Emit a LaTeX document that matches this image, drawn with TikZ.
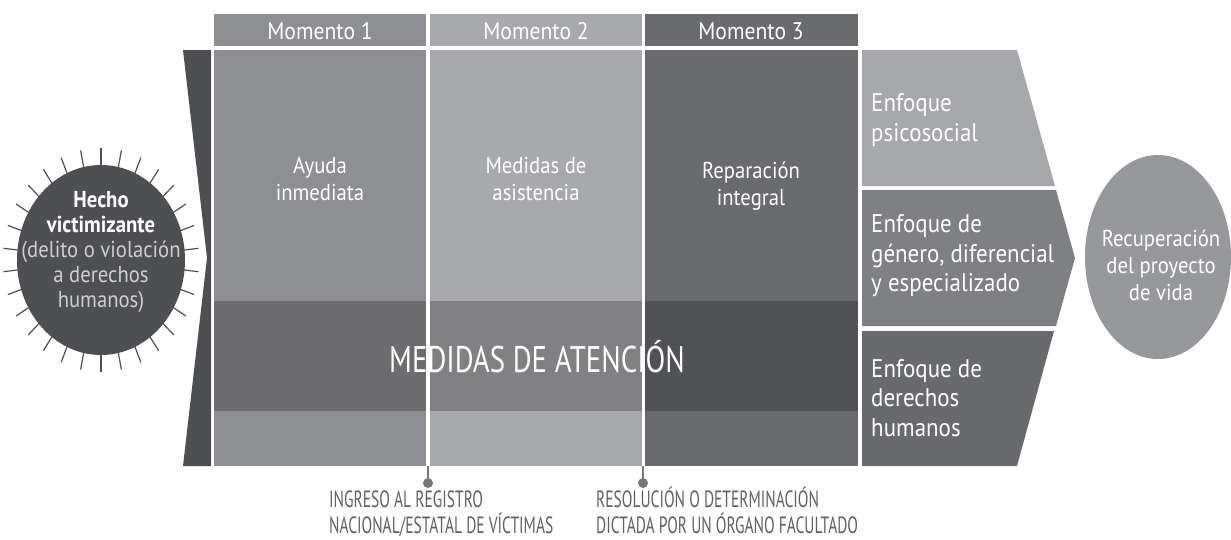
\documentclass[tikz,border=0pt]{standalone}
\usepackage{fontspec}
\setmainfont[FakeStretch=0.9]{PT Sans}
\newfontfamily\condfont[FakeStretch=0.78]{PT Sans}
\newfontfamily\narrowfont[FakeStretch=0.66]{PT Sans}
\begin{document}
\begin{tikzpicture}[x=1pt,y=-1pt,
  lbl/.style={text=white,font=\fontsize{23}{27}\selectfont,align=center,inner sep=0},
  enf/.style={text=white,font=\fontsize{25.5}{29.5}\selectfont,align=left,inner sep=0,anchor=west},
  hdr/.style={text=white,font=\fontsize{24}{26}\selectfont,inner sep=0},
  note/.style={text=notegray,font=\narrowfont\fontsize{23.5}{26}\selectfont,align=left,inner sep=0,anchor=base west},
  dotc/.style={circle,fill=dotgray,inner sep=0,minimum size=10pt}
]
\definecolor{cA}{HTML}{8E8F93}
\definecolor{cB}{HTML}{A8A9AD}
\definecolor{cC}{HTML}{6A6B6F}
\definecolor{dark}{HTML}{4E4F53}
\definecolor{eA}{HTML}{A7A8AB}
\definecolor{eB}{HTML}{7F8084}
\definecolor{eC}{HTML}{696A6E}
\definecolor{recu}{HTML}{97989C}
\definecolor{notegray}{HTML}{606164}
\definecolor{dotgray}{HTML}{77787C}
\definecolor{soft}{HTML}{CFCFD1}
\useasboundingbox (0,0) rectangle (1231,539);
\fill[white] (0,0) rectangle (1231,539);

% headers
\fill[cA] (214,14) rectangle (426,46);
\fill[cB] (430,14) rectangle (642,46);
\fill[cC] (645,14) rectangle (858,46);
\node[hdr] (m1) at (320,31) {Momento 1};
\node[hdr] (m2) at (536,31) {Momento 2};
\node[hdr] (m3) at (751,31) {Momento 3};

% columns
\fill[cA] (214,50) rectangle (426,466);
\fill[cB] (430,50) rectangle (642,466);
\fill[cC] (645,50) rectangle (858,466);
% band
\fill[black,opacity=0.23] (214,301) rectangle (426,411);
\fill[black,opacity=0.23] (430,301) rectangle (642,411);
\fill[black,opacity=0.23] (645,301) rectangle (858,411);

\node[lbl] (c1) at (320,179) {Ayuda\\inmediata};
\node[lbl] (c2) at (536,179) {Medidas de\\asistencia};
\node[lbl] (c3) at (751,186) {Reparación\\integral};
\node[text=white,font=\condfont\fontsize{37}{40}\selectfont,inner sep=0] (band) at (537,357) {MEDIDAS DE ATENCIÓN};

% dark left chevron bar
\fill[dark] (183,50) -- (211,50) -- (211,466) -- (183,466) -- (207,258) -- cycle;

% starburst
\foreach \i in {0,...,29}{
  \pgfmathsetmacro{\a}{6+12*\i}
  \draw[dark,line width=1.2pt] ({101+80*cos(\a)},{260+91*sin(\a)}) -- ({101+98*cos(\a)},{260+112*sin(\a)});
}
\fill[dark] (101,260) ellipse [x radius=84, y radius=95];
\node[align=center,inner sep=0,font=\fontsize{23}{25}\selectfont] (hecho) at (101,252)
  {\textcolor{white}{\textbf{Hecho}}\\\textcolor{white}{\textbf{victimizante}}\\\textcolor{soft}{(delito o violación}\\\textcolor{soft}{a derechos}\\\textcolor{soft}{humanos)}};

% enfoque chevron
\fill[eA] (862,50) -- (1017,50) -- (1055,186) -- (862,186) -- cycle;
\fill[eB] (862,190) -- (1056,190) -- (1075,258) -- (1056,326) -- (862,326) -- cycle;
\fill[eC] (862,331) -- (1054,331) -- (1017,466) -- (862,466) -- cycle;
\node[enf] (e1) at (871,120) {Enfoque\\psicosocial};
\node[enf] (e2) at (871,256) {Enfoque de\\género, diferencial\\y especializado};
\node[enf] (e3) at (871,398) {Enfoque de\\derechos\\humanos};

% recuperación
\fill[recu] (1158,257) ellipse [x radius=73, y radius=102];
\node[lbl] (rec) at (1161,265) {Recuperación\\del proyecto\\de vida};

% milestone ticks
\coordinate (t1) at (428,466);
\coordinate (t2) at (643,466);
\node[dotc] (d1) at (428,483) {};
\node[dotc] (d2) at (643,483) {};
\draw[dotgray,line width=2pt] (t1) -- (d1.center);
\draw[dotgray,line width=2pt] (t2) -- (d2.center);
\node[note] (n1) at (329,533) {INGRESO AL REGISTRO\\NACIONAL/ESTATAL DE VÍCTIMAS};
\node[note] (n2) at (596,533) {RESOLUCIÓN O DETERMINACIÓN\\DICTADA POR UN ÓRGANO FACULTADO};
\end{tikzpicture}
\end{document}
